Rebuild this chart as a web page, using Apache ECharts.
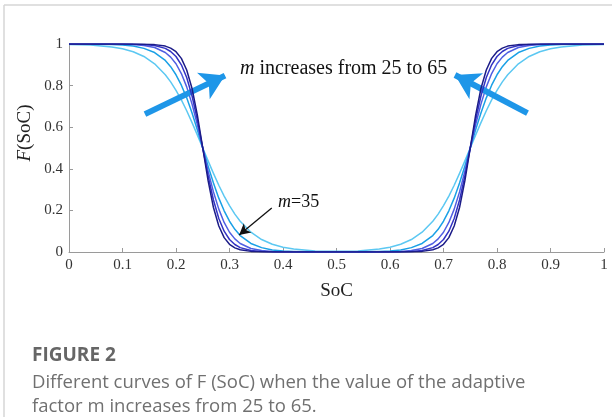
<!DOCTYPE html>
<html>
<head>
<meta charset="utf-8">
<script src="https://cdn.jsdelivr.net/npm/echarts@6/dist/echarts.min.js"></script>
<style>
html,body{margin:0;padding:0;background:#fff;}
#chart{width:612px;height:417px;}
</style>
</head>
<body>
<div id="chart"></div>
<script>
// SoC sample points
const socValues = [0,0.04,0.08,0.1,0.12,0.14,0.16,0.18,0.19,0.2,0.21,0.22,0.23,0.24,0.25,0.26,0.27,0.28,0.29,0.3,0.31,0.32,0.34,0.36,0.38,0.4,0.42,0.46,0.5,
  0.54,0.58,0.6,0.62,0.64,0.66,0.68,0.69,0.7,0.71,0.72,0.73,0.74,0.75,0.76,0.77,0.78,0.79,0.8,0.81,0.82,0.84,0.86,0.88,0.9,0.92,0.96,1];

const fM25 = [0.998,0.995,0.986,0.977,0.963,0.940,0.905,0.852,0.818,0.777,0.731,0.679,0.622,0.562,0.5,0.438,0.378,0.321,0.269,0.223,0.182,0.148,0.095,0.060,0.037,0.023,0.014,0.005,0.004,
  0.005,0.014,0.023,0.037,0.060,0.095,0.148,0.182,0.223,0.269,0.321,0.378,0.438,0.5,0.562,0.622,0.679,0.731,0.777,0.818,0.852,0.905,0.940,0.963,0.977,0.986,0.995,0.998];
const fM35 = [1.000,0.999,0.997,0.995,0.990,0.979,0.959,0.921,0.891,0.852,0.802,0.741,0.668,0.587,0.5,0.413,0.332,0.259,0.198,0.148,0.109,0.079,0.041,0.021,0.010,0.005,0.003,0.001,0.000,
  0.001,0.003,0.005,0.010,0.021,0.041,0.079,0.109,0.148,0.198,0.259,0.332,0.413,0.5,0.587,0.668,0.741,0.802,0.852,0.891,0.921,0.959,0.979,0.990,0.995,0.997,0.999,1.000];
const fM45 = [1.000,1.000,1.000,0.999,0.997,0.993,0.983,0.959,0.937,0.905,0.858,0.794,0.711,0.611,0.5,0.389,0.289,0.206,0.142,0.095,0.063,0.041,0.017,0.007,0.003,0.001,0.000,0.000,0.000,
  0.000,0.000,0.001,0.003,0.007,0.017,0.041,0.063,0.095,0.142,0.206,0.289,0.389,0.5,0.611,0.711,0.794,0.858,0.905,0.937,0.959,0.983,0.993,0.997,0.999,1.000,1.000,1.000];
const fM55 = [1.000,1.000,1.000,1.000,0.999,0.998,0.993,0.979,0.964,0.940,0.900,0.839,0.750,0.634,0.5,0.366,0.250,0.161,0.100,0.060,0.036,0.021,0.007,0.002,0.001,0.000,0.000,0.000,0.000,
  0.000,0.000,0.000,0.001,0.002,0.007,0.021,0.036,0.060,0.100,0.161,0.250,0.366,0.5,0.634,0.750,0.839,0.900,0.940,0.964,0.979,0.993,0.998,0.999,1.000,1.000,1.000,1.000];
const fM65 = [1.000,1.000,1.000,1.000,1.000,0.999,0.997,0.990,0.980,0.963,0.931,0.875,0.786,0.657,0.5,0.343,0.214,0.125,0.069,0.037,0.020,0.011,0.003,0.001,0.000,0.000,0.000,0.000,0.000,
  0.000,0.000,0.000,0.000,0.001,0.003,0.011,0.020,0.037,0.069,0.125,0.214,0.343,0.5,0.657,0.786,0.875,0.931,0.963,0.980,0.990,0.997,0.999,1.000,1.000,1.000,1.000,1.000];

const seriesNames = ['m=25','m=35','m=45','m=55','m=65'];
const seriesValues = [fM25, fM35, fM45, fM55, fM65];
const seriesColors = ['#5CC8F2','#1AA0E6','#4F5FE2','#3232C4','#1C1C88'];

// annotation arrows in data coordinates
const leftArrow = [[0.142,0.663],[0.2916,0.848]];
const rightArrow = [[0.857,0.668],[0.7215,0.851]];
const m35Arrow = [[0.379,0.2115],[0.318,0.082]];

const serif = '"Liberation Serif","Times New Roman",serif';
const chart = echarts.init(document.getElementById('chart'), null, {renderer:'canvas'});

const series = seriesValues.map((vals, k) => ({
  name: seriesNames[k],
  type: 'line',
  data: socValues.map((x, i) => [x, vals[i]]),
  showSymbol: false,
  smooth: false,
  lineStyle: {color: seriesColors[k], width: 1.5, join: 'round'},
  itemStyle: {color: seriesColors[k]},
  silent: true,
  z: 2 + k
}));

function arrowLine(pts, color, width, size) {
  return [
    {coord: pts[0], symbol: 'none', lineStyle: {color: color, width: width, type: 'solid'}},
    {coord: pts[1], symbol: 'arrow', symbolSize: size}
  ];
}
series[4].markLine = {
  silent: true,
  animation: false,
  symbol: ['none','arrow'],
  label: {show: false},
  emphasis: {disabled: true},
  data: [
    arrowLine(leftArrow, '#1E96E8', 6, [22, 24]),
    arrowLine(rightArrow, '#1E96E8', 6, [22, 24]),
    arrowLine(m35Arrow, '#111111', 1.3, [9, 11])
  ]
};

chart.setOption({
  animation: false,
  backgroundColor: '#ffffff',
  grid: {left: 69, right: 8, top: 44, bottom: 165, containLabel: false},
  xAxis: {
    type: 'value', min: 0, max: 1, interval: 0.1,
    name: 'SoC', nameLocation: 'middle', nameGap: 30,
    nameTextStyle: {fontFamily: serif, fontSize: 19, color: '#222'},
    axisLine: {lineStyle: {color: '#9a9a9a', width: 1}},
    axisTick: {inside: true, length: 4, lineStyle: {color: '#9a9a9a'}},
    axisLabel: {fontFamily: serif, fontSize: 15, color: '#333', margin: 6},
    splitLine: {show: false}
  },
  yAxis: {
    type: 'value', min: 0, max: 1, interval: 0.2,
    axisLine: {show: true, lineStyle: {color: '#9a9a9a', width: 1}},
    axisTick: {show: true, inside: true, length: 4, lineStyle: {color: '#9a9a9a'}},
    axisLabel: {fontFamily: serif, fontSize: 15, color: '#333', margin: 6},
    splitLine: {show: false}
  },
  series: series,
  graphic: [
    {type: 'line', shape: {x1: 4, y1: 5, x2: 612, y2: 5}, style: {stroke: '#d6d6d6', lineWidth: 1.5}, silent: true},
    {type: 'line', shape: {x1: 4, y1: 5, x2: 4, y2: 417}, style: {stroke: '#d6d6d6', lineWidth: 1.5}, silent: true},
    {type: 'text', left: 240, top: 59, silent: true, style: {
      text: '{i|m} increases from 25 to 65', fill: '#111',
      font: '20px ' + serif,
      rich: {i: {fontStyle: 'italic', fontFamily: serif, fontSize: 20, fill: '#111'}}
    }},
    {type: 'text', left: 278, top: 193, silent: true, style: {
      text: '{i|m}=35', fill: '#111', font: '18px ' + serif,
      rich: {i: {fontStyle: 'italic', fontFamily: serif, fontSize: 18, fill: '#111'}}
    }},
    {type: 'text', x: 25, y: 133, rotation: Math.PI/2, silent: true, style: {
      text: '{i|F}(SoC)', fill: '#222', font: '19px ' + serif, align: 'center', verticalAlign: 'middle',
      rich: {i: {fontStyle: 'italic', fontFamily: serif, fontSize: 19, fill: '#222'}}
    }},
    {type: 'text', left: 32, top: 346, silent: true, style: {
      text: 'FIGURE 2', fill: '#666', font: 'bold 19px "Open Sans", Lato, sans-serif'
    }},
    {type: 'text', left: 32, top: 371, silent: true, style: {
      text: 'Different curves of F (SoC) when the value of the adaptive\nfactor m increases from 25 to 65.',
      fill: '#707070', font: '18.5px "Open Sans", Lato, sans-serif', lineHeight: 24
    }}
  ]
});
</script>
</body>
</html>
